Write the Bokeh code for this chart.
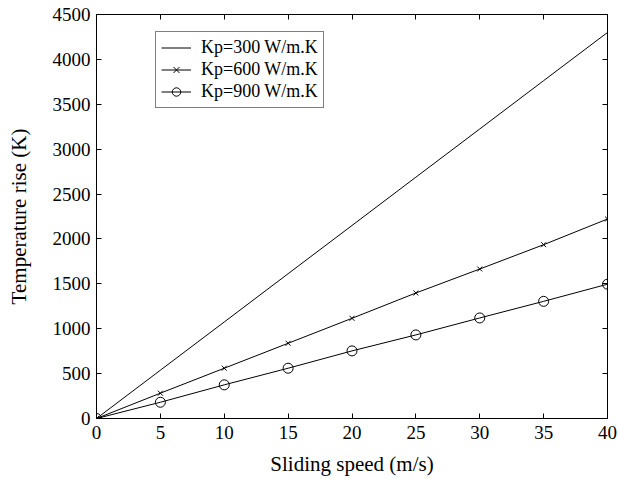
from bokeh.plotting import figure
from bokeh.models import LinearAxis, Range1d, FixedTicker, Legend
from bokeh.embed import file_html
from bokeh.resources import INLINE

speed = [0, 5, 10, 15, 20, 25, 30, 35, 40]
kp300 = [0, 538, 1075, 1613, 2150, 2688, 3225, 3763, 4300]
kp600 = [0, 282, 560, 838, 1116, 1398, 1665, 1936, 2222]
kp900 = [0, 181, 375, 560, 753, 931, 1120, 1305, 1496]

x_ticks = [0, 5, 10, 15, 20, 25, 30, 35, 40]
y_ticks = [0, 500, 1000, 1500, 2000, 2500, 3000, 3500, 4000, 4500]

FONT = "Liberation Serif"

p = figure(width=618, height=479, output_backend="svg", toolbar_location=None,
           x_range=Range1d(0, 40), y_range=Range1d(0, 4500),
           min_border_left=96, min_border_right=11, min_border_top=14, min_border_bottom=61,
           x_axis_label="Sliding speed (m/s)", y_axis_label="Temperature rise (K)")
p.xgrid.visible = False
p.ygrid.visible = False
p.outline_line_color = "black"
p.outline_line_width = 1
p.background_fill_color = "white"
p.border_fill_color = "white"

def style_axis(ax, ticks, labels=True):
    ax.ticker = FixedTicker(ticks=ticks)
    ax.major_tick_in = 5
    ax.major_tick_out = 0
    ax.minor_tick_in = 0
    ax.minor_tick_out = 0
    ax.axis_line_color = "black"
    ax.major_tick_line_color = "black"
    ax.major_label_text_font = FONT
    ax.major_label_text_color = "black"
    ax.major_label_text_font_size = "19px"
    ax.axis_label_text_font = FONT
    ax.axis_label_text_font_style = "normal"
    ax.axis_label_text_font_size = "21px"
    ax.axis_label_text_color = "black"
    if not labels:
        ax.major_label_overrides = {t: "" for t in ticks}
        ax.major_label_standoff = 0

for ax in p.xaxis:
    style_axis(ax, x_ticks)
    ax.major_label_standoff = 7
    ax.axis_label_standoff = 10
for ax in p.yaxis:
    style_axis(ax, y_ticks)
    ax.major_label_standoff = 6
    ax.axis_label_standoff = 19

top = LinearAxis()
style_axis(top, x_ticks, labels=False)
p.add_layout(top, "above")
right = LinearAxis()
style_axis(right, y_ticks, labels=False)
p.add_layout(right, "right")

l1 = p.line(speed, kp300, line_color="black", line_width=1)
l2 = p.line(speed, kp600, line_color="black", line_width=1)
m2 = p.scatter(speed, kp600, marker="x", size=7, line_color="black", line_width=1)
l3 = p.line(speed, kp900, line_color="black", line_width=1)
m3 = p.scatter(speed, kp900, marker="circle", size=10, line_color="black",
               fill_color=None, line_width=1)

legend = Legend(items=[("Kp=300 W/m.K", [l1]),
                       ("Kp=600 W/m.K", [l2, m2]),
                       ("Kp=900 W/m.K", [l3, m3])],
                location=(59, 310))
legend.label_text_font = FONT
legend.label_text_font_size = "18px"
legend.label_text_color = "black"
legend.border_line_color = "black"
legend.border_line_width = 1
legend.background_fill_alpha = 1
legend.padding = 5
legend.spacing = 1
legend.margin = 0
legend.glyph_width = 30
legend.glyph_height = 21
legend.label_height = 21
legend.label_standoff = 10
p.add_layout(legend, "center")

open("out.html", "w").write(file_html(p, INLINE))
